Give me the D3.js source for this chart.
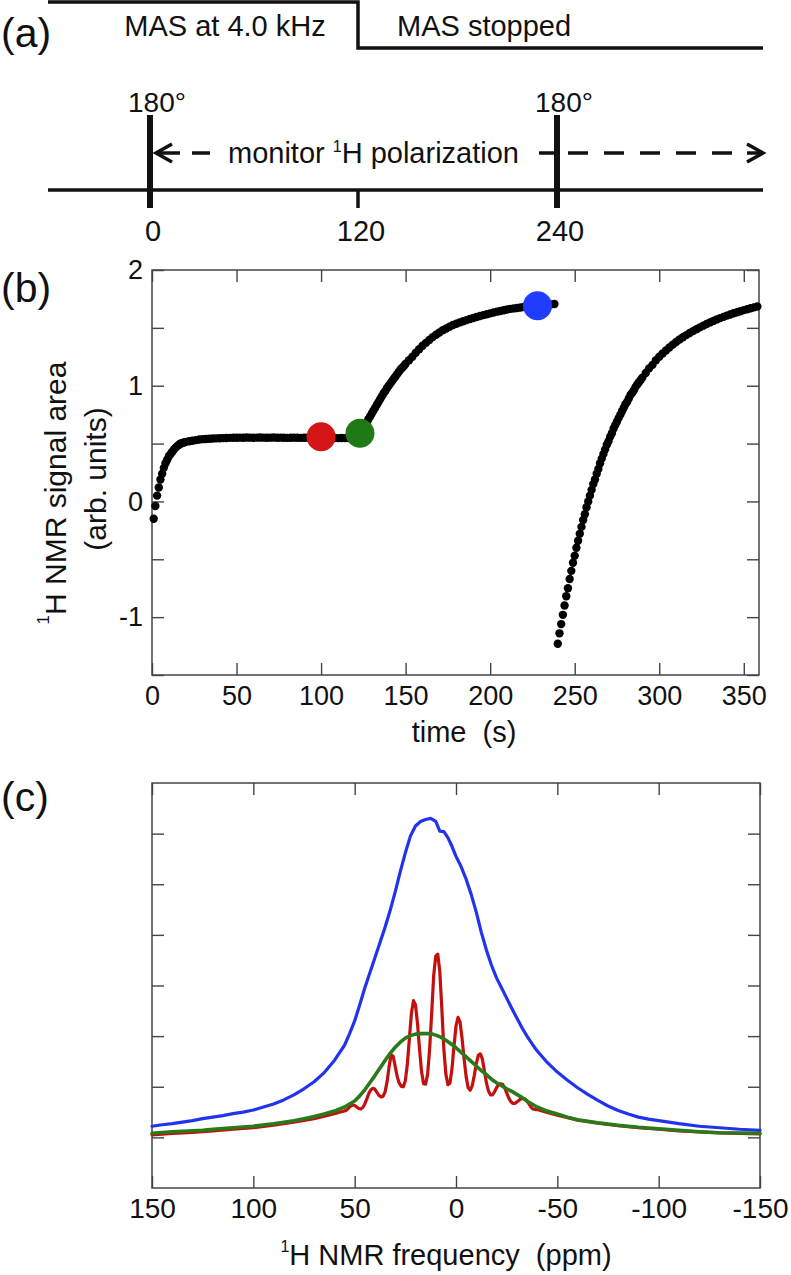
<!DOCTYPE html>
<html>
<head>
<meta charset="utf-8">
<script src="https://cdn.jsdelivr.net/npm/d3@7"></script>
<style>
  body { margin: 0; background: #fff; }
  text { font-family: "Liberation Sans", Arial, Helvetica, sans-serif; fill: #111; white-space: pre; }
</style>
</head>
<body>
<svg id="chart" width="791" height="1275" xmlns="http://www.w3.org/2000/svg"></svg>
<script>
// ---------------- DATA ----------------
// Panel (a): experiment timeline
const scheduleTimes = [0, 120, 240];
const scheduleLabels = ["0", "120", "240"];
const pulseTimes = [0, 240];
const pulseLabel = "180°";
const phaseLabels = ["MAS at 4.0 kHz", "MAS stopped"];
const switchTime = 120;

// Panel (b): 1H signal area vs time  [time (s), signal]
const segment1 = [
  [1,-0.15],[2,-0.04],[3,0.05],[4,0.12],[5,0.19],[6,0.24],[7,0.29],[8,0.33],[9,0.36],[10,0.39],
  [11,0.41],[12,0.43],[13,0.45],[14,0.465],[15,0.48],[16,0.49],[17,0.50],[18,0.505],[19,0.51],[20,0.515],
  [22,0.52],[24,0.525],[26,0.53],[28,0.535],[30,0.538],[32,0.54],[34,0.542],[36,0.544],[38,0.545],[40,0.546],
  [42,0.547],[44,0.548],[46,0.549],[48,0.55],[50,0.55],[52,0.551],[54,0.55],[56,0.552],[58,0.551],[60,0.55],
  [62,0.551],[64,0.552],[66,0.551],[68,0.55],[70,0.551],[72,0.552],[74,0.55],[76,0.551],[78,0.55],[80,0.549],
  [82,0.55],[84,0.551],[86,0.55],[88,0.549],[90,0.55],[92,0.55],[94,0.549],[96,0.55],[98,0.55],[100,0.549],
  [102,0.548],[104,0.549],[106,0.548],[108,0.548],[110,0.547],[112,0.548],[114,0.547],[116,0.547],[118,0.547],[120,0.548],
  [121,0.555],[122,0.565],[123,0.585],[124,0.61],[125,0.635],[126,0.66],[127,0.685],[128,0.71],[129,0.735],[130,0.76],
  [131,0.785],[132,0.81],[133,0.835],[134,0.86],[135,0.885],[136,0.91],[137,0.935],[138,0.955],[139,0.98],[140,1.0],
  [141,1.02],[142,1.04],[143,1.06],[144,1.08],[145,1.10],[146,1.12],[147,1.14],[148,1.155],[149,1.17],[150,1.19],
  [152,1.22],[154,1.25],[156,1.285],[158,1.315],[160,1.345],[162,1.37],[164,1.395],[166,1.42],[168,1.44],[170,1.46],
  [172,1.48],[174,1.495],[176,1.51],[178,1.525],[180,1.535],[182,1.547],[184,1.557],[186,1.567],[188,1.576],[190,1.585],
  [192,1.594],[194,1.602],[196,1.61],[198,1.618],[200,1.625],[202,1.633],[204,1.64],[206,1.646],[208,1.652],[210,1.658],
  [212,1.664],[214,1.668],[216,1.672],[218,1.676],[220,1.68],[222,1.683],[224,1.686],[226,1.69],[228,1.692],[230,1.695],
  [232,1.698],[234,1.70],[236,1.703],[238,1.706]
];
const segment2 = [
  [240,-1.23],[241,-1.14],[242,-1.06],[243,-0.98],[244,-0.90],[245,-0.82],[246,-0.75],[247,-0.67],[248,-0.60],[249,-0.53],
  [250,-0.47],[251,-0.40],[252,-0.34],[253,-0.28],[254,-0.22],[255,-0.16],[256,-0.11],[257,-0.05],[258,0.00],[259,0.05],
  [260,0.10],[261,0.15],[262,0.19],[263,0.24],[264,0.28],[265,0.33],[266,0.37],[267,0.41],[268,0.45],[269,0.49],
  [270,0.52],[271,0.56],[272,0.59],[273,0.63],[274,0.66],[275,0.69],[276,0.72],[277,0.75],[278,0.78],[279,0.81],
  [280,0.84],[281,0.86],[282,0.89],[283,0.92],[284,0.94],[285,0.96],[286,0.99],[287,1.01],[288,1.03],[289,1.05],
  [290,1.07],[292,1.11],[294,1.15],[296,1.18],[298,1.22],[300,1.25],[302,1.278],[304,1.304],[306,1.33],[308,1.355],
  [310,1.378],[312,1.40],[314,1.419],[316,1.437],[318,1.455],[320,1.472],[322,1.488],[324,1.504],[326,1.519],[328,1.533],
  [330,1.547],[332,1.56],[334,1.572],[336,1.584],[338,1.595],[340,1.606],[342,1.616],[344,1.626],[346,1.635],[348,1.644],
  [350,1.653],[352,1.661],[354,1.669],[356,1.677],[358,1.685]
];
const markerTimes = [100, 123, 228];
const markerSignals = [0.56, 0.59, 1.69];
const markerColors = ["#d31515", "#1f7a15", "#1f3cff"];
const bXTicks = [0, 50, 100, 150, 200, 250, 300, 350];
const bYTicks = [-1.5, -1, -0.5, 0, 0.5, 1, 1.5, 2];
const bYLabelled = [-1, 0, 1, 2];

// Panel (c): 1H spectra  [ppm, intensity]
const blueSpectrum = [
  [150,0.22],[145,0.25],[140,0.27],[135,0.30],[130,0.33],[125,0.37],[120,0.40],[115,0.43],[110,0.47],[105,0.50],
  [100,0.54],[95,0.60],[90,0.66],[85,0.74],[80,0.84],[75,0.96],[70,1.10],[65,1.28],[60,1.52],[55,1.82],
  [52.5,2.05],[50,2.30],[47.5,2.62],[45,2.95],[42.5,3.25],[40,3.55],[37.5,3.85],[35,4.15],[32.5,4.48],[30,4.85],
  [27.5,5.25],[25,5.62],[22.5,5.95],[20,6.15],[17.5,6.24],[15,6.28],[12.5,6.30],[10,6.24],[8,6.05],[6,6.04],
  [4,5.92],[2,5.75],[0,5.55],[-2.5,5.35],[-5,5.10],[-7.5,4.80],[-10,4.45],[-12.5,4.05],[-15,3.70],[-17.5,3.40],
  [-20,3.15],[-22.5,2.95],[-25,2.75],[-27.5,2.55],[-30,2.36],[-32.5,2.17],[-35,2.00],[-37.5,1.85],[-40,1.71],[-45,1.48],
  [-50,1.29],[-55,1.13],[-60,0.98],[-65,0.85],[-70,0.73],[-75,0.62],[-80,0.53],[-85,0.46],[-90,0.40],[-95,0.36],
  [-100,0.33],[-110,0.27],[-120,0.22],[-130,0.19],[-140,0.16],[-150,0.14]
];
const redSpectrum = [
  [150,0.05],[140,0.08],[130,0.10],[120,0.13],[110,0.16],[100,0.19],[90,0.24],[80,0.30],[70,0.37],[65,0.42],
  [60,0.47],[59,0.48],[58,0.49],[57,0.50],[56,0.51],[55,0.52],[54,0.54],[53,0.58],[52,0.62],[51,0.64],
  [50,0.63],[49,0.60],[48,0.57],[47,0.56],[46,0.59],[45,0.66],[44,0.76],[43,0.87],[42,0.94],[41,0.97],
  [40,0.95],[39,0.89],[38,0.83],[37,0.80],[36,0.81],[35,0.90],[34,1.10],[33,1.40],[32,1.63],[31,1.60],
  [30,1.40],[29,1.20],[28,1.07],[27,1.01],[26,1.00],[25,1.12],[24,1.45],[23,1.95],[22,2.45],[21,2.70],
  [20,2.62],[19,2.25],[18,1.75],[17,1.30],[16,1.06],[15,1.05],[14,1.25],[13,1.75],[12,2.45],[11,3.20],
  [10,3.58],[9,3.62],[8,3.28],[7,2.55],[6,1.75],[5,1.25],[4,1.04],[3,1.07],[2,1.35],[1,1.80],
  [0,2.20],[-1,2.37],[-2,2.28],[-3,1.95],[-4,1.55],[-5,1.20],[-6,0.98],[-7,0.93],[-8,1.02],[-9,1.22],
  [-10,1.45],[-11,1.62],[-12,1.65],[-13,1.55],[-14,1.32],[-15,1.08],[-16,0.92],[-17,0.84],[-18,0.84],[-19,0.90],
  [-20,0.98],[-21,1.04],[-22,1.06],[-23,1.05],[-24,0.98],[-25,0.88],[-26,0.78],[-27,0.71],[-28,0.67],[-29,0.67],
  [-30,0.70],[-31,0.73],[-32,0.76],[-33,0.77],[-34,0.76],[-35,0.72],[-36,0.66],[-37,0.60],[-38,0.56],[-39,0.55],
  [-40,0.55],[-45,0.49],[-50,0.44],[-55,0.39],[-60,0.34],[-70,0.28],[-80,0.23],[-90,0.19],[-100,0.16],[-110,0.13],
  [-120,0.11],[-130,0.09],[-140,0.08],[-150,0.07]
];
const greenSpectrum = [
  [150,0.08],[140,0.11],[130,0.13],[125,0.14],[120,0.16],[110,0.19],[100,0.22],[90,0.27],[80,0.33],[75,0.37],
  [70,0.41],[65,0.46],[60,0.52],[55,0.60],[50,0.72],[47.5,0.82],[45,0.94],[42.5,1.08],[40,1.22],[37.5,1.37],
  [35,1.52],[32.5,1.66],[30,1.78],[27.5,1.88],[25,1.96],[22.5,2.01],[20,2.04],[17.5,2.05],[15,2.05],[12.5,2.05],
  [10,2.02],[7.5,1.98],[5,1.92],[2.5,1.85],[0,1.77],[-2.5,1.68],[-5,1.59],[-7.5,1.50],[-10,1.41],[-12.5,1.32],
  [-15,1.24],[-17.5,1.15],[-20,1.08],[-22.5,1.02],[-25,0.96],[-27.5,0.91],[-30,0.85],[-32.5,0.79],[-35,0.72],[-37.5,0.66],
  [-40,0.60],[-45,0.52],[-50,0.46],[-55,0.40],[-60,0.35],[-70,0.29],[-80,0.24],[-90,0.20],[-100,0.17],[-110,0.14],
  [-120,0.11],[-130,0.09],[-140,0.085],[-150,0.08]
];
const spectrumColors = { blue: "#2233ee", red: "#c40f0f", green: "#2a7a1c" };
const cXTicks = [150, 100, 50, 0, -50, -100, -150];
const cYTicks = [0, 1, 2, 3, 4, 5, 6];

// ---------------- DRAWING ----------------
const svg = d3.select("#chart");
const INK = "#111";
const FRAME = "#444";

// panel letters
[["(a)", 47], ["(b)", 302], ["(c)", 811]].forEach(([t, y]) => {
  svg.append("text").attr("x", 1).attr("y", y).attr("font-size", 41).text(t);
});

// ---- Panel (a)
const xA = d3.scaleLinear().domain(scheduleTimes).range([150, 358, 557]);
const gA = svg.append("g");
gA.append("path")
  .attr("d", `M48,2H${xA(switchTime)}V48H763`)
  .attr("fill", "none").attr("stroke", INK).attr("stroke-width", 3.5);
gA.append("text").attr("x", 225).attr("y", 36).attr("text-anchor", "middle")
  .attr("font-size", 29).text(phaseLabels[0]);
gA.append("text").attr("x", xA(switchTime) + 39).attr("y", 36)
  .attr("font-size", 29).text(phaseLabels[1]);
// time axis
gA.append("line").attr("x1", 48).attr("x2", 763).attr("y1", 190).attr("y2", 190)
  .attr("stroke", INK).attr("stroke-width", 3.5);
gA.append("line").attr("x1", xA(switchTime)).attr("x2", xA(switchTime))
  .attr("y1", 190).attr("y2", 208).attr("stroke", INK).attr("stroke-width", 3.5);
scheduleTimes.forEach((t, i) => {
  gA.append("text").attr("x", xA(t) + 3).attr("y", 241).attr("text-anchor", "middle")
    .attr("font-size", 29).text(scheduleLabels[i]);
});
pulseTimes.forEach(t => {
  gA.append("line").attr("x1", xA(t)).attr("x2", xA(t)).attr("y1", 115).attr("y2", 208)
    .attr("stroke", INK).attr("stroke-width", 6);
  gA.append("text").attr("x", xA(t) - 22).attr("y", 112).attr("font-size", 28).text(pulseLabel);
});
// monitor arrow
const ay = 153, x0 = xA(0), x2 = xA(240);
const arrowStroke = (sel) => sel.attr("stroke", INK).attr("stroke-width", 3.5).attr("fill", "none");
gA.append("path").attr("d", `M${x0 + 22},${ay - 9}L${x0 + 6},${ay}L${x0 + 22},${ay + 9}`).call(arrowStroke);
gA.append("line").attr("x1", x0 + 6).attr("x2", x0 + 30).attr("y1", ay).attr("y2", ay).call(arrowStroke);
gA.append("line").attr("x1", x0 + 42).attr("x2", x0 + 60).attr("y1", ay).attr("y2", ay).call(arrowStroke);
const mon = gA.append("text").attr("x", x0 + 78).attr("y", 163).attr("font-size", 29);
mon.append("tspan").text("monitor ");
mon.append("tspan").attr("font-size", 16).attr("dy", -11).text("1");
mon.append("tspan").attr("dy", 11).text("H polarization");
gA.append("line").attr("x1", x2 - 18).attr("x2", x2).attr("y1", ay).attr("y2", ay).call(arrowStroke);
d3.range(5).forEach(i => {
  gA.append("line").attr("x1", x2 + 11 + i * 36).attr("x2", x2 + 31 + i * 36)
    .attr("y1", ay).attr("y2", ay).call(arrowStroke);
});
gA.append("line").attr("x1", x2 + 190).attr("x2", 763).attr("y1", ay).attr("y2", ay).call(arrowStroke);
gA.append("path").attr("d", `M${763 - 16},${ay - 9}L763,${ay}L${763 - 16},${ay + 9}`).call(arrowStroke);

// helper: style an axis group
function styleAxis(g, fs) {
  g.select(".domain").remove();
  g.attr("font-family", null).attr("font-size", fs);
  g.selectAll(".tick line").attr("stroke", FRAME).attr("stroke-width", 1.4);
  g.selectAll(".tick text").attr("fill", INK).style("font-size", fs + "px");
}

// ---- Panel (b)
const bL = 152, bR = 759, bT = 270, bB = 675;
const xB = d3.scaleLinear().domain([0, 359]).range([bL, bR]);
const yB = d3.scaleLinear().domain([-1.5, 2]).range([bB, bT]);
const gB = svg.append("g");
gB.append("rect").attr("x", bL).attr("y", bT).attr("width", bR - bL).attr("height", bB - bT)
  .attr("fill", "none").attr("stroke", FRAME).attr("stroke-width", 1.5);
gB.append("g").attr("transform", `translate(0,${bB})`)
  .call(d3.axisBottom(xB).tickValues(bXTicks).tickSize(-12).tickSizeOuter(0).tickPadding(11).tickFormat(d => String(d)))
  .call(g => styleAxis(g, 27));
gB.append("g").attr("transform", `translate(0,${bT})`)
  .call(d3.axisTop(xB).tickValues(bXTicks).tickSize(-12).tickSizeOuter(0).tickFormat(""))
  .call(g => styleAxis(g, 27));
gB.append("g").attr("transform", `translate(${bL},0)`)
  .call(d3.axisLeft(yB).tickValues(bYTicks).tickSize(-12).tickSizeOuter(0).tickPadding(9)
    .tickFormat(d => bYLabelled.includes(d) ? String(d) : ""))
  .call(g => styleAxis(g, 27));
gB.append("g").attr("transform", `translate(${bR},0)`)
  .call(d3.axisRight(yB).tickValues(bYTicks).tickSize(-12).tickSizeOuter(0).tickFormat(""))
  .call(g => styleAxis(g, 27));

gB.append("g").selectAll("circle").data(segment1.concat(segment2)).join("circle")
  .attr("cx", d => xB(d[0])).attr("cy", d => yB(d[1])).attr("r", 4.2).attr("fill", "#000");
gB.append("g").selectAll("circle").data(markerTimes).join("circle")
  .attr("cx", d => xB(d)).attr("cy", (d, i) => yB(markerSignals[i])).attr("r", 14.5)
  .attr("fill", (d, i) => markerColors[i]);

gB.append("text").attr("x", 464).attr("y", 742).attr("text-anchor", "middle")
  .attr("font-size", 29).attr("xml:space", "preserve").text("time  (s)");
const yt1 = gB.append("text").attr("transform", "translate(66,493) rotate(-90)")
  .attr("text-anchor", "middle").attr("font-size", 30);
yt1.append("tspan").attr("font-size", 17).attr("dy", -17).text("1");
yt1.append("tspan").attr("dy", 17).text("H NMR signal area");
gB.append("text").attr("transform", "translate(106,479) rotate(-90)")
  .attr("text-anchor", "middle").attr("font-size", 30).text("(arb. units)");

// ---- Panel (c)
const cL = 152, cR = 760, cT = 783, cB = 1188;
const xC = d3.scaleLinear().domain([150, -150]).range([cL, cR]);
const yC = d3.scaleLinear().domain([-1, 7]).range([cB, cT]);
const gC = svg.append("g");
gC.append("rect").attr("x", cL).attr("y", cT).attr("width", cR - cL).attr("height", cB - cT)
  .attr("fill", "none").attr("stroke", FRAME).attr("stroke-width", 1.5);
gC.append("g").attr("transform", `translate(0,${cB})`)
  .call(d3.axisBottom(xC).tickValues(cXTicks).tickSize(-12).tickSizeOuter(0).tickPadding(10).tickFormat(d => String(d)))
  .call(g => styleAxis(g, 28));
gC.append("g").attr("transform", `translate(0,${cT})`)
  .call(d3.axisTop(xC).tickValues(cXTicks).tickSize(-12).tickSizeOuter(0).tickFormat(""))
  .call(g => styleAxis(g, 28));
gC.append("g").attr("transform", `translate(${cL},0)`)
  .call(d3.axisLeft(yC).tickValues(cYTicks).tickSize(-12).tickSizeOuter(0).tickFormat(""))
  .call(g => styleAxis(g, 28));
gC.append("g").attr("transform", `translate(${cR},0)`)
  .call(d3.axisRight(yC).tickValues(cYTicks).tickSize(-12).tickSizeOuter(0).tickFormat(""))
  .call(g => styleAxis(g, 28));

const lineC = d3.line().x(d => xC(d[0])).y(d => yC(d[1]));
[[blueSpectrum, spectrumColors.blue, 3.2], [redSpectrum, spectrumColors.red, 3.2], [greenSpectrum, spectrumColors.green, 3.6]]
  .forEach(([data, col, w]) => {
    gC.append("path").datum(data).attr("d", lineC).attr("fill", "none")
      .attr("stroke", col).attr("stroke-width", w).attr("stroke-linejoin", "round").attr("stroke-linecap", "round");
  });

const xt = gC.append("text").attr("x", 446).attr("y", 1265).attr("text-anchor", "middle")
  .attr("font-size", 29).attr("xml:space", "preserve");
xt.append("tspan").attr("font-size", 16).attr("dy", -13).text("1");
xt.append("tspan").attr("dy", 13).text("H NMR frequency  (ppm)");
</script>
</body>
</html>
